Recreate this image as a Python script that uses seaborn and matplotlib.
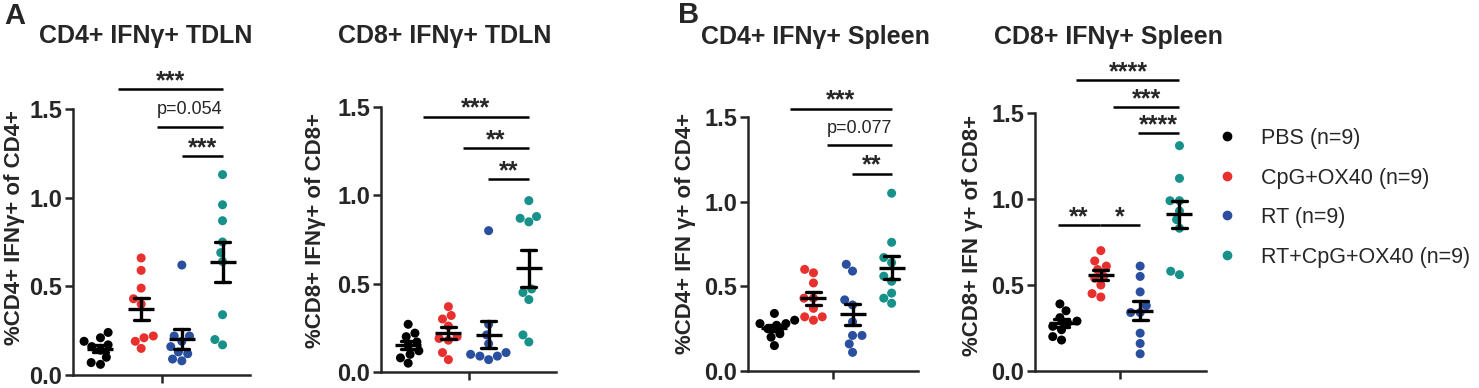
import numpy as np
import pandas as pd
import matplotlib
matplotlib.use('Agg')
import matplotlib.pyplot as plt
import seaborn as sns
from matplotlib.lines import Line2D

# groups shown in every panel
groups = ['PBS', 'CpG+OX40', 'RT', 'RT+CpG+OX40']
group_n = [9, 9, 9, 9]
colors = ['#000000', '#E8312F', '#2B4F9F', '#17918A']

# CD4+ IFNg+ TDLN
cd4_tdln_pbs = [0.24, 0.21, 0.19, 0.17, 0.16, 0.14, 0.10, 0.07, 0.06]
cd4_tdln_cpg = [0.66, 0.59, 0.49, 0.43, 0.40, 0.22, 0.21, 0.19, 0.15]
cd4_tdln_rt = [0.62, 0.22, 0.22, 0.19, 0.16, 0.13, 0.12, 0.09, 0.08]
cd4_tdln_combo = [1.13, 0.96, 0.87, 0.75, 0.69, 0.64, 0.34, 0.20, 0.17]

# CD8+ IFNg+ TDLN
cd8_tdln_pbs = [0.27, 0.22, 0.20, 0.17, 0.15, 0.12, 0.10, 0.08, 0.05]
cd8_tdln_cpg = [0.37, 0.32, 0.30, 0.26, 0.20, 0.19, 0.18, 0.11, 0.07]
cd8_tdln_rt = [0.80, 0.27, 0.21, 0.16, 0.11, 0.10, 0.09, 0.09, 0.07]
cd8_tdln_combo = [0.97, 0.88, 0.87, 0.85, 0.47, 0.45, 0.41, 0.21, 0.17]

# CD4+ IFNg+ Spleen
cd4_spl_pbs = [0.34, 0.30, 0.28, 0.28, 0.27, 0.25, 0.22, 0.20, 0.15]
cd4_spl_cpg = [0.60, 0.58, 0.52, 0.43, 0.43, 0.37, 0.32, 0.32, 0.30]
cd4_spl_rt = [0.63, 0.59, 0.42, 0.39, 0.29, 0.21, 0.21, 0.16, 0.11]
cd4_spl_combo = [1.05, 0.76, 0.67, 0.64, 0.56, 0.53, 0.46, 0.43, 0.40]

# CD8+ IFNg+ Spleen
cd8_spl_pbs = [0.39, 0.35, 0.31, 0.29, 0.28, 0.26, 0.24, 0.20, 0.18]
cd8_spl_cpg = [0.70, 0.64, 0.61, 0.59, 0.55, 0.54, 0.50, 0.45, 0.43]
cd8_spl_rt = [0.61, 0.55, 0.46, 0.38, 0.34, 0.34, 0.22, 0.16, 0.10]
cd8_spl_combo = [1.31, 1.12, 0.99, 0.99, 0.93, 0.88, 0.83, 0.58, 0.56]

# significance brackets: (from group, to group, height, label)
sig_cd4_tdln = [(0.43, 3, 1.61, '***'), (1.38, 3, 1.40, 'p=0.054'), (2.0, 3, 1.235, '***')]
sig_cd8_tdln = [(0.37, 3, 1.446, '***'), (1.36, 3, 1.267, '**'), (1.98, 3, 1.091, '**')]
sig_cd4_spl = [(0.41, 3, 1.55, '***'), (1.35, 3, 1.337, 'p=0.077'), (1.98, 3, 1.166, '**')]
sig_cd8_spl = [(0.38, 3, 1.69, '****'), (1.31, 3, 1.536, '***'), (1.94, 3, 1.384, '****'),
               (-0.09, 0.97, 0.85, '**'), (0.97, 2.0, 0.85, '*')]

panels = [
    ('CD4+ IFN\u03b3+ TDLN', '%CD4+ IFN\u03b3+ of CD4+',
     [cd4_tdln_pbs, cd4_tdln_cpg, cd4_tdln_rt, cd4_tdln_combo], sig_cd4_tdln),
    ('CD8+ IFN\u03b3+ TDLN', '%CD8+ IFN\u03b3+ of CD8+',
     [cd8_tdln_pbs, cd8_tdln_cpg, cd8_tdln_rt, cd8_tdln_combo], sig_cd8_tdln),
    ('CD4+ IFN\u03b3+ Spleen', '%CD4+ IFN \u03b3+ of CD4+',
     [cd4_spl_pbs, cd4_spl_cpg, cd4_spl_rt, cd4_spl_combo], sig_cd4_spl),
    ('CD8+ IFN\u03b3+ Spleen', '%CD8+ IFN \u03b3+ of CD8+',
     [cd8_spl_pbs, cd8_spl_cpg, cd8_spl_rt, cd8_spl_combo], sig_cd8_spl),
]

sns.set_style('ticks')
plt.rcParams['font.family'] = ['Liberation Sans', 'DejaVu Sans']

W, H = 1479, 388
fig = plt.figure(figsize=(W / 100, H / 100), dpi=100)


def px(x, y):
    return x / W, 1 - y / H


# axes boxes in pixels: left, right, top, bottom
boxes = [(73, 250, 109, 375), (381, 556, 107, 372), (748, 918, 117, 371), (1035, 1206, 113, 371)]
title_pos = [(146, 36), (445, 36), (815, 37), (1108, 37)]
ylabel_pos = [(15, 228), (315, 231), (685, 233), (972, 236)]


def gx(i):
    # position of a dodged group on the categorical axis
    return -0.3 + 0.2 * i


for k, (title, ylabel, vals, sigs) in enumerate(panels):
    l, r, t, b = boxes[k]
    ax = fig.add_axes([l / W, 1 - b / H, (r - l) / W, (b - t) / H])
    df = pd.DataFrame({
        'x': 'all',
        'group': np.repeat(groups, [len(v) for v in vals]),
        'val': np.concatenate(vals),
    })
    sns.swarmplot(data=df, x='x', y='val', hue='group', hue_order=groups,
                  palette=colors, dodge=True, size=6.5, linewidth=0,
                  legend=False, ax=ax, zorder=2)
    sns.pointplot(data=df, x='x', y='val', hue='group', hue_order=groups,
                  palette={g: 'black' for g in groups}, dodge=0.6,
                  errorbar='se', capsize=0.075, markers='_', linestyle='none',
                  markersize=19, markeredgewidth=2.4,
                  err_kws={'linewidth': 2.4}, legend=False, ax=ax)
    for c in ax.collections:
        c.set_zorder(2)
    for ln in ax.lines:
        ln.set_zorder(3)

    ax.set_xlim(-0.435, 0.435)
    ax.set_ylim(0, 1.5)
    ax.set_yticks([0, 0.5, 1.0, 1.5])
    ax.set_yticklabels(['0.0', '0.5', '1.0', '1.5'], fontsize=17, fontweight='bold')
    ax.set_xticks([0])
    ax.set_xticklabels([''])
    ax.set_xlabel('')
    ax.set_ylabel('')
    sns.despine(ax=ax)
    for s in ['left', 'bottom']:
        ax.spines[s].set_linewidth(1.8)
    ax.tick_params(width=1.8, length=6, pad=2)

    for a, e, y, lab in sigs:
        ax.plot([gx(a), gx(e)], [y, y], color='black', lw=1.8, clip_on=False,
                solid_capstyle='butt')
        mid = (gx(a) + gx(e)) / 2
        if lab.startswith('p='):
            ax.text(mid, y + 0.07, lab, ha='center', va='baseline', fontsize=13,
                    clip_on=False)
        else:
            ax.text(mid, y + 0.005, lab, ha='center', va='baseline', fontsize=18,
                    fontweight='bold', clip_on=False)

    tx, ty = px(*title_pos[k])
    fig.text(tx, ty, title, ha='center', va='center', fontsize=18, fontweight='bold')
    lx, ly = px(*ylabel_pos[k])
    fig.text(lx, ly, ylabel, ha='center', va='center', rotation=90, fontsize=16,
             fontweight='bold')

fig.text(*px(4, 16), 'A', ha='left', va='center', fontsize=21, fontweight='bold')
fig.text(*px(678, 15), 'B', ha='left', va='center', fontsize=21, fontweight='bold')

handles = [Line2D([], [], marker='o', linestyle='none', color=c, markersize=6)
           for c in colors]
labels = [f'{g} (n={n})' for g, n in zip(groups, group_n)]
fig.legend(handles, labels, loc='upper left', bbox_to_anchor=px(1218, 128),
           frameon=False, fontsize=15.5, handlelength=0.8, handletextpad=1.2,
           labelspacing=0.86, borderaxespad=0, borderpad=0)

fig.savefig('out.png', dpi=100)
